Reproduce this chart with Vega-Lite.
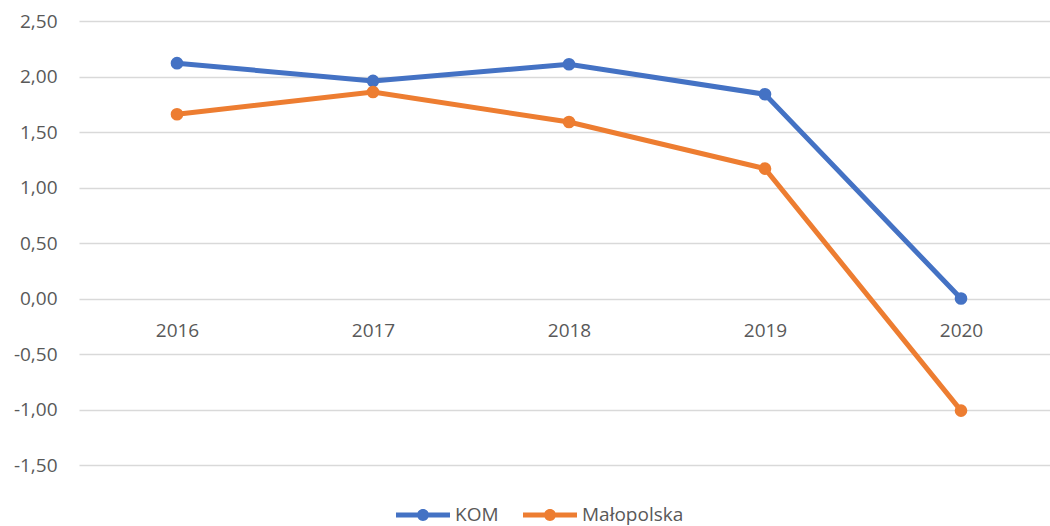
{
  "$schema": "https://vega.github.io/schema/vega-lite/v6.json",
  "autosize": {"type": "none"},
  "padding": {"left": 79, "top": 21, "right": 1, "bottom": 61},
  "width": 970,
  "height": 444,
  "background": "white",
  "config": {
    "view": {"stroke": null},
    "font": "Open Sans"
  },
  "data": {
    "values": [
      {"year": "2016", "series": "KOM", "value": 2.12},
      {"year": "2017", "series": "KOM", "value": 1.96},
      {"year": "2018", "series": "KOM", "value": 2.11},
      {"year": "2019", "series": "KOM", "value": 1.84},
      {"year": "2020", "series": "KOM", "value": 0.0},
      {"year": "2016", "series": "Małopolska", "value": 1.66},
      {"year": "2017", "series": "Małopolska", "value": 1.86},
      {"year": "2018", "series": "Małopolska", "value": 1.59},
      {"year": "2019", "series": "Małopolska", "value": 1.17},
      {"year": "2020", "series": "Małopolska", "value": -1.01}
    ]
  },
  "encoding": {
    "x": {
      "field": "year", "type": "ordinal",
      "scale": {"type": "point", "padding": 0.5, "range": [0, 980]},
      "axis": {
        "title": null, "labelAngle": 0, "offset": -166.5,
        "domain": false, "ticks": false, "grid": false,
        "labelPadding": 23, "labelFontSize": 19, "labelColor": "#595959",
        "labelFont": "Open Sans"
      }
    },
    "y": {
      "field": "value", "type": "quantitative",
      "scale": {"domain": [-1.5, 2.5], "nice": false, "zero": false},
      "axis": {
        "title": null, "values": [-1.5, -1, -0.5, 0, 0.5, 1, 1.5, 2, 2.5],
        "domain": false, "ticks": false,
        "gridColor": "#D9D9D9", "gridWidth": 1.6,
        "labelPadding": 22, "labelFontSize": 19, "labelColor": "#595959",
        "labelFont": "Open Sans",
        "labelExpr": "(datum.value < 0 ? '-' : '') + replace(format(abs(datum.value), '.2f'), '.', ',')"
      }
    },
    "color": {
      "field": "series", "type": "nominal",
      "scale": {"domain": ["KOM", "Małopolska"], "range": ["#4472C4", "#ED7D31"]},
      "legend": {
        "title": null, "orient": "none", "direction": "horizontal",
        "legendX": 317, "legendY": 467,
        "symbolType": "M-1,-0.09 H1 V0.09 H-1 Z M-0.22,0 A0.22,0.22 0 1,1 0.22,0 A0.22,0.22 0 1,1 -0.22,0 Z",
        "symbolSize": 2916, "symbolStrokeWidth": 0,
        "labelFontSize": 19, "labelColor": "#595959", "labelFont": "Open Sans",
        "labelOffset": 5, "columnPadding": 24
      }
    }
  },
  "layer": [
    {"mark": {"type": "line", "strokeWidth": 5}},
    {"mark": {"type": "point", "filled": true, "opacity": 1, "size": 160}}
  ]
}
